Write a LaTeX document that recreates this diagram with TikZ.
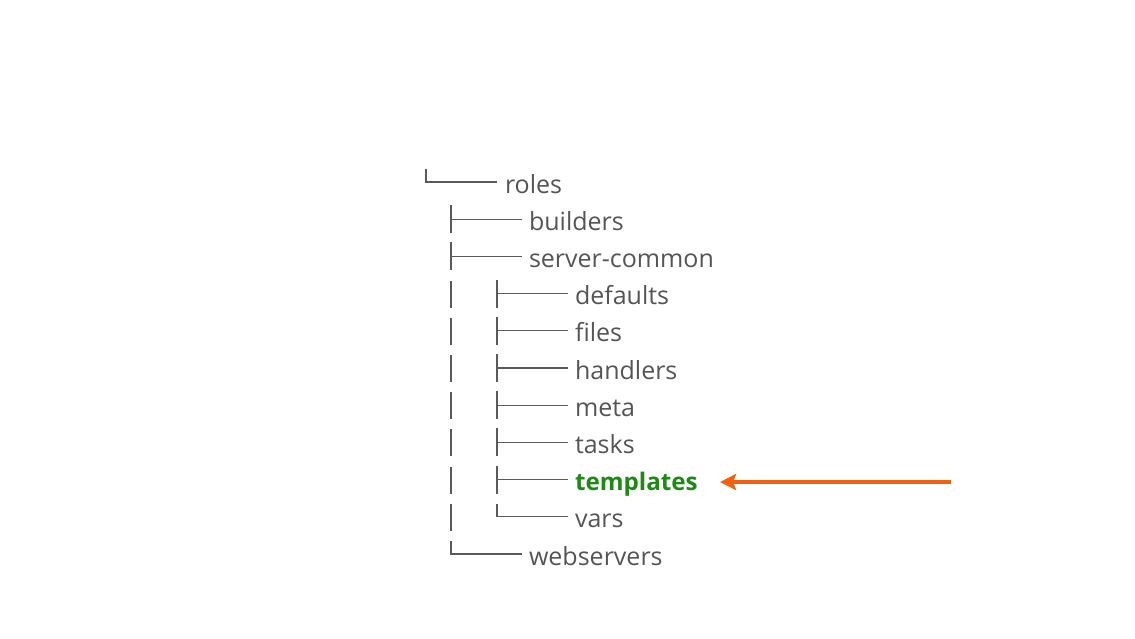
\documentclass[tikz,border=0pt]{standalone}
\usepackage{fontspec}
\setmainfont{Open Sans}
\usetikzlibrary{arrows.meta}
\definecolor{txtgray}{HTML}{555555}
\definecolor{linegray}{HTML}{5A5A5A}
\definecolor{tplgreen}{HTML}{1E8A14}
\definecolor{arrorange}{HTML}{F4600C}
\begin{document}
\begin{tikzpicture}[x=1pt,y=-1pt,
  item/.style={anchor=base west,inner sep=0pt,outer sep=0pt,text=txtgray,font=\fontsize{25}{29}\selectfont},
  hl/.style={item,text=tplgreen,font=\fontsize{24.2}{28}\selectfont\bfseries},
  tree/.style={draw=linegray,line width=1.1pt},
  pointer/.style={draw=arrorange,line width=4.2pt,-{Stealth[length=16pt,width=16pt,inset=3pt]}}]
\useasboundingbox (0,0) rectangle (1135,638);
% text nodes (baselines)
\node[item] (roles)   at (505,193)   {roles};
\node[item] (builders) at (529,230.2) {builders};
\node[item] (common)  at (529,267.4) {server-common};
\node[item] (defaults) at (575,304.6) {defaults};
\node[item] (files)   at (575,341.8) {files};
\node[item] (handlers) at (575,379)  {handlers};
\node[item] (meta)    at (575,416.2) {meta};
\node[item] (tasks)   at (575,453.4) {tasks};
\node[hl]   (templates) at (575,490.6) {templates};
\node[item] (vars)    at (575,527.8) {vars};
\node[item] (web)     at (529,565)   {webservers};
% tree glyphs
% roles: corner
\draw[tree] (426,169) -- (426,182) -- (497,182);
% builders, server-common: tee
\foreach \b in {230.2,267.4}{
  \draw[tree] (451,\b-25) -- (451,\b+3);
  \draw[tree] (451,\b-11) -- (522,\b-11);
}
% outer vertical bars for children of server-common
\foreach \b in {304.6,341.8,379,416.2,453.4,490.6,527.8}{
  \draw[tree] (451,\b-24) -- (451,\b+3);
}
% inner tees
\foreach \b in {304.6,341.8,379,416.2,453.4}{
  \draw[tree] (497,\b-25) -- (497,\b+3);
  \draw[tree] (497,\b-11) -- (568,\b-11);
}
% templates tee (green part)
\draw[tree] (497,490.6-25) -- (497,490.6+3);
\draw[tree] (497,490.6-11) -- (511,490.6-11);
\draw[tree,draw=tplgreen] (511,490.6-11) -- (568,490.6-11);
% vars corner
\draw[tree] (497,527.8-24) -- (497,527.8-11) -- (568,527.8-11);
% webservers corner
\draw[tree] (451,565-24) -- (451,565-11) -- (522,565-11);
% arrow
\coordinate (astart) at (951,482);
\coordinate (aend) at (720,482);
\draw[pointer] (astart) -- (aend);
\end{tikzpicture}
\end{document}
